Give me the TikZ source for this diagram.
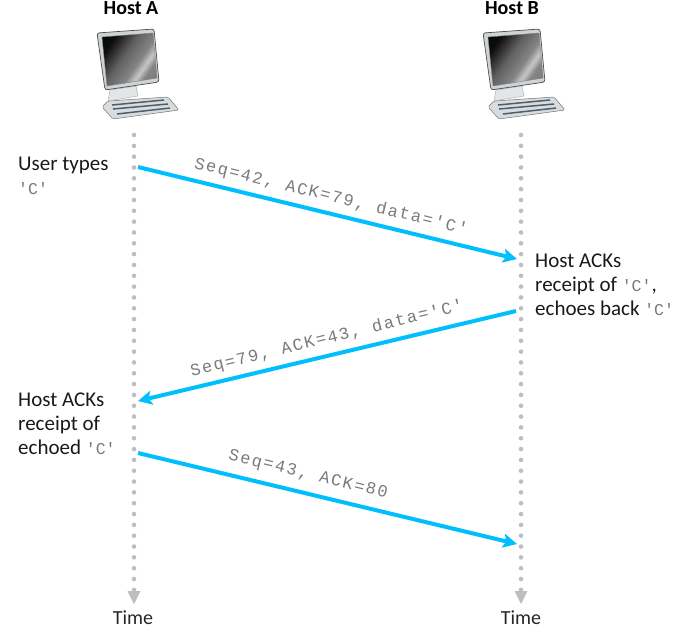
\documentclass[tikz,border=0pt]{standalone}
\usepackage{fontspec}
\setmainfont{Carlito}
\newfontfamily\codefont[LetterSpace=10]{Liberation Mono}
\newfontfamily\inlinefont{Liberation Mono}
\usetikzlibrary{arrows.meta}
\definecolor{flow}{HTML}{00BFFF}
\definecolor{lifeline}{HTML}{BDBDC2}
\definecolor{codegray}{HTML}{7A7A7A}
\definecolor{metal}{HTML}{B9C0C4}
\definecolor{metaldark}{HTML}{4F5F68}
\pgfdeclarehorizontalshading{screenshade}{100bp}{color(0bp)=(black); color(27bp)=(black!95); color(44bp)=(black!62); color(58bp)=(black!48); color(65bp)=(black!22); color(71bp)=(black!48); color(100bp)=(black!58)}
\newcommand{\cod}[1]{{\inlinefont\fontsize{16.5}{16.5}\selectfont\textcolor{codegray}{#1}}}
\tikzset{
  x=1pt,y=-1pt,
  txt/.style={font=\fontsize{21}{24}\selectfont,text=black!90,inner sep=0pt,align=left,anchor=north west},
  hosttitle/.style={font=\fontsize{20}{22}\selectfont\bfseries,text=black,inner sep=0pt},
  timelabel/.style={font=\fontsize{20}{22}\selectfont,text=black!85,inner sep=0pt},
  msg/.style={line width=4pt,color=flow,-{Stealth[length=14pt,width=14pt,inset=3pt]}},
  life/.style={line width=4.6pt,color=lifeline,line cap=round,dash pattern=on 0pt off 10.83pt},
  lifehead/.style={fill=lifeline,draw=none},
  msglabel/.style={font=\codefont\fontsize{17}{17}\selectfont,text=codegray,inner sep=0pt},
  computer/.pic={
    % keyboard
    \fill[metal!55,draw=black!55,line width=.5pt,rounded corners=1.5pt] (102,107) -- (108,101) -- (168,97) -- (179,110) -- (113,119) -- cycle;
    \draw[metaldark,line width=1.5pt] (112,105) -- (164,100) (113,109) -- (168,104) (117,114) -- (170,108);
    % stand
    \fill[metal!40,draw=black!35,line width=.4pt] (108,101) -- (110,90) -- (136,86) -- (138,96) -- cycle;
    % monitor
    \fill[metal!70,draw=black!70,line width=.7pt,rounded corners=2.5pt] (97,33) -- (154,29) -- (159,82) -- (105,90) -- cycle;
    \shade[shading=screenshade,shading angle=-35,draw=black!50,line width=.4pt] (102,37) -- (153,33) -- (157,78) -- (107,86) -- cycle;
  }
}
\begin{document}
\begin{tikzpicture}
\useasboundingbox (0,0) rectangle (690,643);
\node[hosttitle] (hostA) at (131,8) {Host A};
\node[hosttitle] (hostB) at (512,8) {Host B};
\pic at (0,0) {computer};
\pic at (386,0) {computer};

\coordinate (Atop) at (134,135);
\coordinate (Abot) at (134,590);
\coordinate (Btop) at (521,135);
\coordinate (Bbot) at (521,590);
\draw[life] (Atop) -- (Abot);
\draw[life] (Btop) -- (Bbot);
\fill[lifehead] (127.5,591) -- (140.5,591) -- (134,604) -- cycle;
\fill[lifehead] (514.5,591) -- (527.5,591) -- (521,604) -- cycle;
\node[timelabel] (timeA) at (133,618) {Time};
\node[timelabel] (timeB) at (521,618) {Time};

\coordinate (a1) at (138,167);
\coordinate (b1) at (517,259);
\coordinate (b2) at (516,311);
\coordinate (a2) at (138,401);
\coordinate (a3) at (138,453);
\coordinate (b3) at (517,544);
\draw[msg] (a1) -- (b1);
\draw[msg] (b2) -- (a2);
\draw[msg] (a3) -- (b3);

\node[msglabel,rotate=-13.7] (m1) at (331,197) {Seq=42, ACK=79, data='C'};
\node[msglabel,rotate=13.7] (m2) at (327,339) {Seq=79, ACK=43, data='C'};
\node[msglabel,rotate=-13.7] (m3) at (308,475) {Seq=43, ACK=80};

\node[txt] (userA) at (18,157) {User types\\\cod{'C'}};
\node[txt] (ackB) at (535,254) {Host ACKs\\receipt of \cod{'C'},\\echoes back \cod{'C'}};
\node[txt] (ackA) at (18,393) {Host ACKs\\receipt of\\echoed \cod{'C'}};
\end{tikzpicture}
\end{document}
